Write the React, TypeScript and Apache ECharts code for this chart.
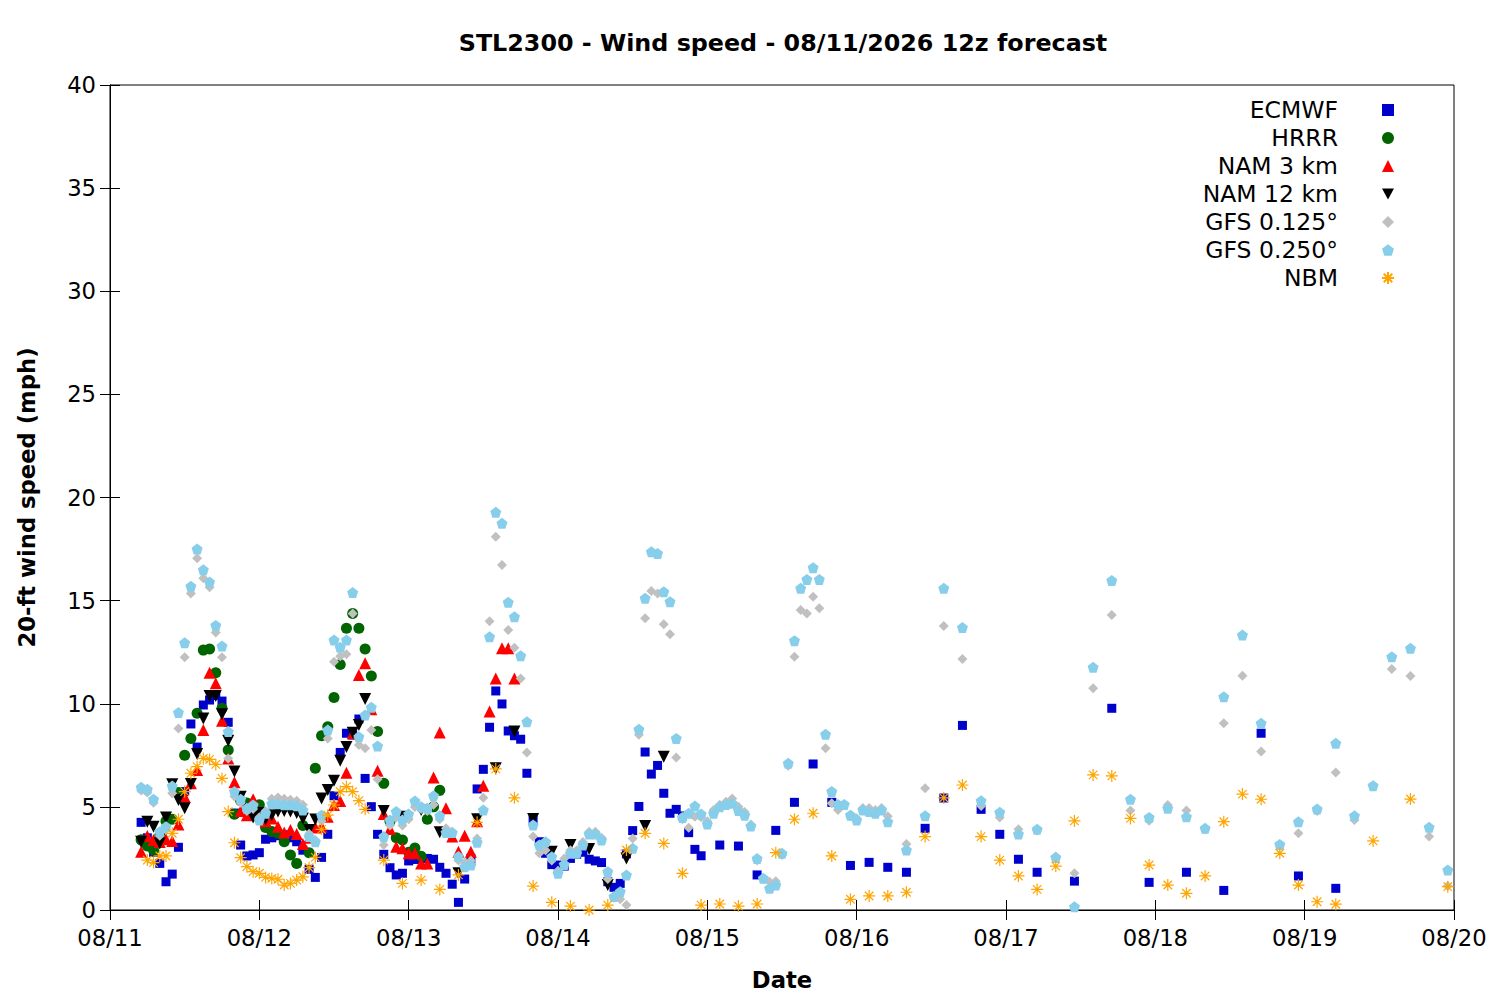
import React, { useEffect, useRef } from "react";
import * as echarts from "echarts";

// ---------- data (x = hours after 08/11 00:00, y = mph) ----------
const dateLabels = ["08/11", "08/12", "08/13", "08/14", "08/15", "08/16", "08/17", "08/18", "08/19", "08/20"];
const seriesNames = ["ECMWF", "HRRR", "NAM 3 km", "NAM 12 km", "GFS 0.125°", "GFS 0.250°", "NBM"];

function range(start: number, end: number, step: number): number[] {
  const r: number[] = [];
  for (let h = start; h <= end + 1e-9; h += step) r.push(h);
  return r;
}

// forecast output times (hourly, then 3-hourly, then 6-hourly)
const ecmwfHours = [...range(5, 95, 1), ...range(98, 149, 3), ...range(155, 197, 6)];
const hrrrHours = range(5, 53, 1);
const nam3Hours = range(5, 65, 1);
const nam12Hours = [...range(5, 41, 1), ...range(44, 89, 3)];
const gfsHours = [...range(5, 125, 1), ...range(128, 215, 3)];
const nbmHours = [...range(6, 41, 1), ...range(44, 197, 3), ...range(203, 215, 6)];

const ecmwfSpeed = [
  4.25, 3.5, 2.8, 2.26, 1.37, 1.74, 3.04, 5.74, 9.02, 7.9, 9.94, 10.18, 10.4, 10.13, 9.1, 4.7, 3.15, 2.62, 2.67,
  2.78, 3.43, 3.5, 3.6, 3.65, 3.5, 3.31, 2.9, 1.97, 1.58, 2.55, 3.67, 5.54, 7.64, 8.57, 8.48, 9.26, 6.38, 5.01, 3.67, 2.7, 2.05, 1.7, 1.78,
  2.38, 2.45, 2.5, 2.5, 2.46, 2.07, 1.78, 1.25, 0.37, 1.5, 2.5, 5.87, 6.82, 8.86, 10.62, 9.99, 8.68, 8.45, 8.28, 6.63, 4.36, 3.31, 2.75, 2.2,
  2.18, 2.13, 2.5, 2.7, 2.8, 2.46, 2.38, 2.3, 1.37, 1.1, 1.29, 2.72, 3.85, 5.02, 7.66, 6.59, 7.01, 5.66, 4.69, 4.88, 4.56, 3.75, 2.94, 2.63,
  3.15, 3.1, 1.7, 3.86, 5.22, 7.08, 5.22, 2.16, 2.31, 2.07, 1.83, 3.96, 5.43, 8.95, 4.88, 3.67, 2.46, 1.83,
  1.4, 9.78, 1.34, 1.83, 0.95, 8.57, 1.65, 1.05,
];

const hrrrSpeed = [
  3.4, 3.1, 2.9, 3.6, 4.3, 4.4, 5.7, 7.5, 8.32, 9.54, 12.6, 12.65, 11.5, 9.78, 7.76, 4.64, 5.3, 5.19, 4.8,
  5.1, 4.0, 3.8, 3.72, 3.31, 2.67, 2.26, 4.1, 2.78, 6.87, 8.45, 8.89, 10.3, 11.9, 13.66, 14.38, 13.66, 12.65, 11.35, 8.65, 6.14, 4.3, 3.5, 3.39,
  2.8, 3.0, 2.6, 4.4, 5.0, 5.8,
];

const nam3Speed = [
  2.83, 3.59, 3.4, 3.3, 3.43, 3.35, 4.15, 5.49, 6.14, 6.79, 8.73, 11.5, 10.99, 9.18, 7.35, 6.19, 4.8, 4.6, 5.37,
  4.6, 4.3, 4.44, 4.04, 3.76, 3.88, 3.68, 3.2, 3.5, 4.0, 4.04, 4.52, 5.09, 5.28, 6.66, 8.57, 11.39, 11.96, 9.73, 6.75, 4.65, 3.93, 3.07, 2.99,
  2.75, 2.75, 2.26, 2.26, 6.42, 8.61, 4.93, 3.56, 2.83, 3.6, 2.83, 4.3, 6.03, 9.62, 11.23, 12.69, 12.69, 11.23,
];

const nam12Speed = [
  3.31, 4.28, 4.04, 3.23, 4.49, 6.1, 5.33, 4.93, 6.11, 7.56, 9.29, 10.38, 10.38, 9.49, 8.21, 6.71, 5.49, 4.9, 4.49,
  4.7, 4.4, 4.6, 4.77, 4.8, 4.77, 4.7, 4.44, 3.88, 4.39, 5.41, 5.82, 6.27, 7.24, 7.9, 8.6, 8.97, 10.23,
  4.8, 4.52, 4.85, 3.77, 1.78, 4.4, 6.87, 8.65, 4.41, 2.83, 3.15, 2.96, 1.21, 2.5, 4.07, 7.43,
];

const gfs0125Speed = [
  5.8, 5.7, 5.2, 3.6, 3.9, 5.66, 8.8, 12.25, 15.35, 17.05, 16.08, 15.65, 13.45, 12.25, 7.35, 5.5, 5.2, 4.8, 4.9,
  4.5, 4.8, 5.4, 5.45, 5.4, 5.35, 5.3, 5.1, 3.7, 3.4, 4.3, 8.32, 12.04, 12.3, 12.4, 14.38, 8.0, 7.84, 8.73, 6.34, 3.15, 4.1, 4.5, 4.1,
  4.4, 5.0, 4.9, 4.8, 5.1, 4.4, 3.96, 3.8, 2.4, 2.3, 2.4, 3.47, 5.44, 14.0, 18.1, 16.73, 13.58, 12.72, 11.23, 7.64, 3.56, 2.75, 2.9, 2.4,
  1.9, 2.5, 2.9, 2.9, 3.3, 3.8, 3.8, 3.5, 1.5, 0.6, 0.52, 0.24, 3.47, 8.5, 14.14, 15.47, 15.35, 13.85, 13.37, 7.4, 4.4, 3.99, 4.52, 4.5,
  4.3, 4.85, 5.1, 5.25, 5.41, 5.01, 4.75, 4.14, 2.4, 1.5, 1.37, 1.4, 2.67, 7.0, 12.28, 14.55, 14.38, 15.19, 14.63, 7.84, 5.17, 4.85, 5.1, 4.55,
  4.45, 4.95, 4.95, 4.85, 4.95, 4.55,
  3.2, 5.9, 13.77, 12.17, 5.04, 4.49, 3.91, 3.85, 2.6, 1.78, 10.75, 14.3, 4.82, 4.33, 5.09, 4.82, 3.9, 9.05, 11.36, 7.68,
  3.1, 3.72, 4.8, 6.67, 4.36, 6.0, 11.68, 11.35, 3.56, 1.16,
];

const gfs0250Speed = [
  5.95, 5.85, 5.37, 3.8, 4.04, 6.01, 9.57, 12.96, 15.7, 17.5, 16.5, 15.9, 13.8, 12.8, 8.65, 5.74, 5.37, 4.93, 5.09,
  4.36, 4.69, 5.15, 5.15, 5.1, 5.1, 5.05, 4.85, 3.56, 3.31, 4.6, 8.73, 13.09, 12.74, 13.09, 15.39, 8.4, 9.45, 9.83, 7.95, 3.56, 4.36, 4.77, 4.36,
  4.65, 5.28, 5.01, 4.93, 5.54, 4.57, 3.76, 3.76, 2.59, 2.1, 2.18, 3.28, 4.85, 13.25, 19.28, 18.75, 14.92, 14.22, 12.33, 9.13, 4.12, 3.15, 3.31, 2.58,
  1.78, 2.21, 2.75, 2.75, 3.15, 3.68, 3.68, 3.39, 1.86, 0.65, 0.89, 1.7, 2.99, 8.76, 15.11, 17.37, 17.29, 15.43, 14.95, 8.32, 4.49, 4.69, 5.04, 4.65,
  4.17, 4.69, 5.01, 5.12, 5.17, 4.82, 4.6, 4.07, 2.5, 1.54, 1.05, 1.21, 2.75, 7.11, 13.06, 15.6, 16.03, 16.6, 16.03, 8.52, 5.75, 5.12, 5.12, 4.6,
  4.36, 4.85, 4.77, 4.69, 4.85, 4.28,
  2.91, 4.57, 15.6, 13.7, 5.3, 4.74, 3.68, 3.91, 2.55, 0.16, 11.77, 15.97, 5.37, 4.49, 4.93, 4.52, 3.96, 10.34, 13.33, 9.05,
  3.18, 4.28, 4.9, 8.08, 4.57, 6.03, 12.28, 12.69, 4.01, 1.94,
];

const nbmSpeed = [
  2.42, 2.3, 2.62, 2.62, 3.72, 4.4, 5.74, 6.63, 6.95, 7.35, 7.3, 7.06, 6.38, 4.77, 3.26, 2.54, 2.1, 1.86,
  1.78, 1.58, 1.53, 1.49, 1.21, 1.29, 1.45, 1.61, 2.05, 2.55, 3.91, 4.6, 5.09, 5.74, 5.98, 5.74, 5.3, 4.88,
  2.42, 1.29, 1.45, 1.0, 1.7, 4.25, 6.84, 5.44, 1.16, 0.37, 0.19, 0.0, 0.24, 2.91, 3.72, 3.23, 1.78, 0.24,
  0.29, 0.19, 0.29, 2.78, 4.4, 4.69, 2.62, 0.52, 0.68, 0.68, 0.86, 3.56, 5.44, 6.06, 3.56, 2.42, 1.65, 1.0,
  2.13, 4.32, 6.55, 6.5, 4.44, 2.18, 1.21, 0.81, 1.65, 4.28, 5.62, 5.37, 2.75, 1.21, 0.4, 0.28,
  3.35, 5.38, 1.13,
];

// ---------- styling ----------
const FONT = "DejaVu Sans";
const FS = 22.7;
const DOWN_TRIANGLE = "path://M0,0L10,0L5,9Z";
const PENTAGON = "path://M5,0L10,3.63L8.09,9.51L1.91,9.51L0,3.63Z";
const ASTERISK = "path://M5,0L5,10M0,5L10,5M1.46,1.46L8.54,8.54M1.46,8.54L8.54,1.46";

function pairs(hours: number[], values: number[]) {
  return values.map((v, i) => [hours[i], v]);
}

export default function App() {
  const ref = useRef<HTMLDivElement>(null);

  useEffect(() => {
    document.body.style.margin = "0";
    if (!ref.current) return;
    const chart = echarts.init(ref.current, null, { renderer: "svg" });

    const mk = (name: string, hours: number[], vals: number[], symbol: string, size: number, color: string, extra: any = {}) => ({
      name,
      type: "scatter",
      data: pairs(hours, vals),
      symbol,
      symbolSize: size,
      itemStyle: { color, opacity: 1, ...extra },
      emphasis: { disabled: true },
    });

    const xAxisBase = {
      type: "value",
      min: 0,
      max: 216,
      interval: 24,
      splitLine: { show: false },
      axisLine: { show: true, lineStyle: { color: "#000", width: 1 } },
      axisTick: { show: true, inside: true, length: 10, lineStyle: { color: "#000", width: 1 } },
    };
    const yAxisBase = {
      type: "value",
      min: 0,
      max: 40,
      interval: 5,
      splitLine: { show: false },
      axisLine: { show: true, lineStyle: { color: "#000", width: 1 } },
      axisTick: { show: true, inside: true, length: 10, lineStyle: { color: "#000", width: 1 } },
    };

    chart.setOption({
      animation: false,
      backgroundColor: "#fff",
      title: {
        text: "STL2300 - Wind speed - 08/11/2026 12z forecast",
        left: 778,
        top: 26,
        textAlign: "center",
        textStyle: { fontFamily: FONT, fontSize: 23.8, fontWeight: "bold", color: "#000" },
      },
      legend: {
        orient: "vertical",
        right: 100,
        top: 91,
        align: "right",
        itemWidth: 12,
        itemHeight: 12,
        itemGap: 0,
        selectedMode: false,
        textStyle: { fontFamily: FONT, fontSize: 23.5, color: "#000", lineHeight: 28, padding: [0, 39, 0, 0] },
        data: seriesNames,
      },
      grid: { left: 110, right: 46, top: 85, bottom: 90, show: true, borderColor: "#000", borderWidth: 1, containLabel: false },
      xAxis: [
        {
          ...xAxisBase,
          position: "bottom",
          name: "Date",
          nameLocation: "middle",
          nameGap: 58,
          nameTextStyle: { fontFamily: FONT, fontSize: FS, fontWeight: "bold", color: "#000" },
          axisLabel: {
            show: true,
            margin: 16,
            fontFamily: FONT,
            fontSize: FS,
            color: "#000",
            formatter: (v: number) => dateLabels[Math.round(v / 24)] ?? "",
          },
        },
        { ...xAxisBase, position: "top", axisLabel: { show: false } },
      ],
      yAxis: [
        {
          ...yAxisBase,
          position: "left",
          name: "20-ft wind speed (mph)",
          nameLocation: "middle",
          nameGap: 72,
          nameTextStyle: { fontFamily: FONT, fontSize: FS, fontWeight: "bold", color: "#000" },
          axisLabel: { show: true, margin: 14, fontFamily: FONT, fontSize: FS, color: "#000" },
        },
        { ...yAxisBase, position: "right", axisLabel: { show: false } },
      ],
      series: [
        mk(seriesNames[0], ecmwfHours, ecmwfSpeed, "rect", 9, "#0000cc"),
        mk(seriesNames[1], hrrrHours, hrrrSpeed, "circle", 11, "#006400"),
        mk(seriesNames[2], nam3Hours, nam3Speed, "triangle", 12, "#ff0000"),
        mk(seriesNames[3], nam12Hours, nam12Speed, DOWN_TRIANGLE, 12, "#000000"),
        mk(seriesNames[4], gfsHours, gfs0125Speed, "diamond", 10, "#c0c0c0"),
        mk(seriesNames[5], gfsHours, gfs0250Speed, PENTAGON, 11, "#87ceeb"),
        mk(seriesNames[6], nbmHours, nbmSpeed, ASTERISK, 12, "#ffa500", { borderColor: "#ffa500", borderWidth: 1.2 }),
      ],
    });

    return () => chart.dispose();
  }, []);

  return <div ref={ref} style={{ width: 1500, height: 1000 }} />;
}
